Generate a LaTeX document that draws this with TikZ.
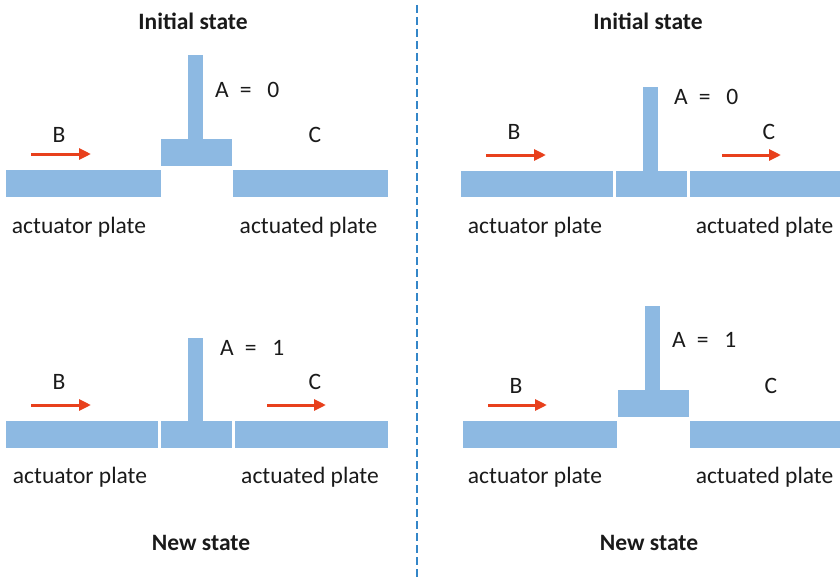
\documentclass[tikz,border=0pt]{standalone}
\usepackage{fontspec}
\setmainfont{Carlito}
\usetikzlibrary{arrows.meta}
\definecolor{plateblue}{RGB}{141,185,226}
\definecolor{pushred}{RGB}{232,64,28}
\definecolor{divider}{RGB}{52,134,200}
\definecolor{ink}{RGB}{26,26,26}
\tikzset{
  plate/.style={fill=plateblue, draw=none},
  push/.style={draw=pushred, line width=3pt, -{Triangle[length=12pt,width=11pt]}},
  lbl/.style={text=ink, inner sep=0pt, anchor=base, font=\fontsize{23.5}{27}\selectfont},
  title/.style={lbl, font=\fontsize{23.5}{27}\selectfont\bfseries},
  divline/.style={draw=divider, line width=2.7pt, dash pattern=on 8pt off 4pt}
}
\newcommand{\aeq}[1]{A\hspace{11pt}=\hspace{16pt}#1}
\begin{document}
\begin{tikzpicture}[x=1pt,y=-1pt]
\useasboundingbox (0,0) rectangle (840,578);

% divider between the two columns
\coordinate (dtop) at (417,5);
\coordinate (dbot) at (417,578);
\draw[divline] (dtop) -- (dbot);

% titles
\node[title] (t1) at (193,30) {Initial state};
\node[title] (t2) at (648,30) {Initial state};
\node[title] (n1) at (201,550) {New state};
\node[title] (n2) at (649,550) {New state};

% ---- top left: initial state, A = 0
\fill[plate] (6,170) rectangle (161,197);
\fill[plate] (233,170) rectangle (388,197);
\fill[plate] (161,139) rectangle (232,166);
\fill[plate] (188,55) rectangle (203,139);
\node[lbl, anchor=base west] (a1) at (215,97) {\aeq{0}};
\node[lbl] (b1) at (59,142) {B};
\node[lbl] (c1) at (315,142) {C};
\coordinate (b1s) at (31,154); \coordinate (b1e) at (91,154);
\draw[push] (b1s) -- (b1e);
\node[lbl] (p1a) at (79,233) {actuator plate};
\node[lbl] (p1b) at (308.5,233) {actuated plate};

% ---- top right: initial state, A = 0
\fill[plate] (461,171) rectangle (613,197);
\fill[plate] (616,171) rectangle (687,197);
\fill[plate] (643,87) rectangle (658,171);
\fill[plate] (690,171) rectangle (840,197);
\node[lbl, anchor=base west] (a2) at (674,104) {\aeq{0}};
\node[lbl] (b2) at (514,139) {B};
\node[lbl] (c2) at (769,139) {C};
\coordinate (b2s) at (486,155); \coordinate (b2e) at (546,155);
\draw[push] (b2s) -- (b2e);
\coordinate (c2s) at (722,155); \coordinate (c2e) at (781,155);
\draw[push] (c2s) -- (c2e);
\node[lbl] (p2a) at (535,233) {actuator plate};
\node[lbl] (p2b) at (764.5,233) {actuated plate};

% ---- bottom left: new state, A = 1
\fill[plate] (6,421) rectangle (158,448);
\fill[plate] (161,421) rectangle (232,448);
\fill[plate] (188,338) rectangle (203,421);
\fill[plate] (235,421) rectangle (388,448);
\node[lbl, anchor=base west] (a3) at (220,355) {\aeq{1}};
\node[lbl] (b3) at (59,389) {B};
\node[lbl] (c3) at (315,389) {C};
\coordinate (b3s) at (31,405); \coordinate (b3e) at (91,405);
\draw[push] (b3s) -- (b3e);
\coordinate (c3s) at (267,405); \coordinate (c3e) at (326,405);
\draw[push] (c3s) -- (c3e);
\node[lbl] (p3a) at (80,483) {actuator plate};
\node[lbl] (p3b) at (310,483) {actuated plate};

% ---- bottom right: new state, A = 1
\fill[plate] (463,421) rectangle (617,448);
\fill[plate] (618,390) rectangle (689,417);
\fill[plate] (645,306) rectangle (660,390);
\fill[plate] (690,421) rectangle (840,448);
\node[lbl, anchor=base west] (a4) at (672,347) {\aeq{1}};
\node[lbl] (b4) at (516,393) {B};
\node[lbl] (c4) at (771,393) {C};
\coordinate (b4s) at (488,405); \coordinate (b4e) at (547,405);
\draw[push] (b4s) -- (b4e);
\node[lbl] (p4a) at (535,483) {actuator plate};
\node[lbl] (p4b) at (764.5,483) {actuated plate};
\end{tikzpicture}
\end{document}
